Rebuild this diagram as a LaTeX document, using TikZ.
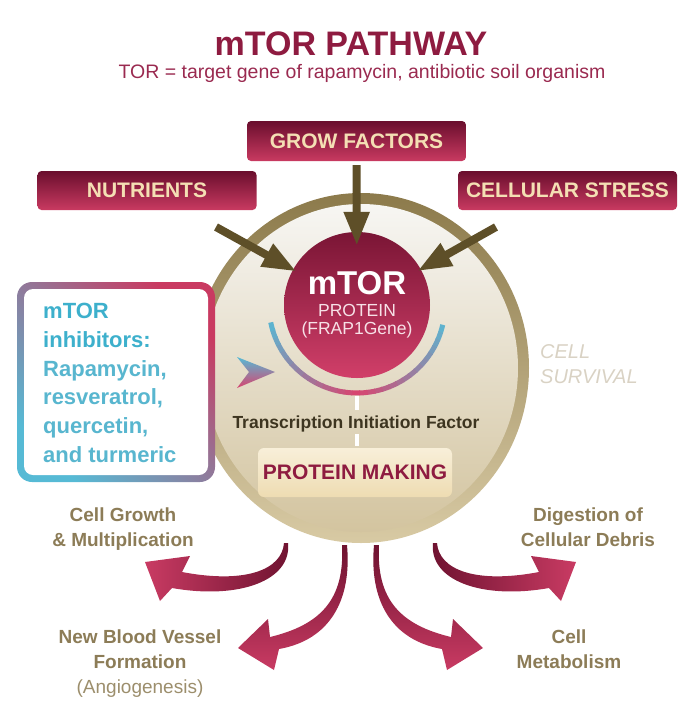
\documentclass[tikz,border=0pt]{standalone}
\usepackage{fontspec}
\setmainfont{Liberation Sans}
\usepackage{tikz}
\usetikzlibrary{arrows.meta}
\usetikzlibrary{positioning}

\definecolor{wine}{HTML}{8E1B40}
\definecolor{winesub}{HTML}{9A2A50}
\definecolor{boxtop}{HTML}{6A0E2D}
\definecolor{boxbot}{HTML}{C93A61}
\definecolor{cream}{HTML}{F4DFB4}
\definecolor{feedbrown}{HTML}{5E4F28}
\definecolor{ringtop}{HTML}{8C7A4B}
\definecolor{ringbot}{HTML}{D8CAA4}
\definecolor{celltop}{HTML}{F7F6F3}
\definecolor{cellmid}{HTML}{ECE5D4}
\definecolor{cellbot}{HTML}{D3C49F}
\definecolor{mtortop}{HTML}{7A1535}
\definecolor{mtorbot}{HTML}{D13F69}
\definecolor{mtortext}{HTML}{F7E1E7}
\definecolor{arcblue}{HTML}{56BAD5}
\definecolor{arcpink}{HTML}{D8446F}
\definecolor{inhpurple}{HTML}{8D6290}
\definecolor{inhtext}{HTML}{3DB0CC}
\definecolor{inhtextb}{HTML}{58B6CF}
\definecolor{darkolive}{HTML}{3D3520}
\definecolor{creamtop}{HTML}{F8EFD9}
\definecolor{creambot}{HTML}{EEDCB2}
\definecolor{survgray}{HTML}{D9D2C4}
\definecolor{tanlabel}{HTML}{8C7C57}
\definecolor{tanlight}{HTML}{9C8E6C}
\definecolor{outtail}{HTML}{6E1230}
\definecolor{outhead}{HTML}{C93B63}

\tikzset{
  factor/.style={rectangle, rounded corners=4pt, top color=boxtop, bottom color=boxbot,
    text=cream, font=\fontsize{21}{21}\selectfont\bfseries,
    minimum width=219pt, minimum height=39pt, inner sep=0pt},
  feed/.style={draw=feedbrown, line width=8pt, -{Triangle[width=24pt,length=34pt]}},
  link/.style={draw=white, line width=4pt},
  outcome/.style={text=tanlabel, font=\fontsize{19}{25}\selectfont\bfseries,
    align=center, anchor=north, inner sep=0pt},
}

\begin{document}
\begin{tikzpicture}[x=1pt,y=-1pt]
\useasboundingbox (0,0) rectangle (700,721);

% heading
\node (title) [font=\fontsize{34}{34}\selectfont\bfseries, text=wine, anchor=base] at (351,55) {mTOR PATHWAY};
\node (subtitle) [font=\fontsize{19.5}{20}\selectfont, text=winesub, anchor=base] at (362,78) {TOR = target gene of rapamycin, antibiotic soil organism};

% outgoing arrows under the cell
\shade[left color=outhead, right color=outtail] (284,543) .. controls (282,570) and (245,584) .. (182,572) -- (190,556) -- (145,562) -- (160,601) -- (172,588) .. controls (240,600) and (292,580) .. (288,543) -- cycle;
\shade[top color=outtail, bottom color=outhead] (342,545) .. controls (345,600) and (320,625) .. (270,637) -- (268,619) -- (238,648) -- (274,670) -- (279,649) .. controls (330,640) and (352,600) .. (347,545) -- cycle;
\shade[top color=outtail, bottom color=outhead] (379,545) .. controls (376,600) and (401,625) .. (451,637) -- (453,619) -- (483,648) -- (447,670) -- (442,649) .. controls (391,640) and (369,600) .. (374,545) -- cycle;
\shade[right color=outhead, left color=outtail] (437,543) .. controls (439,570) and (476,584) .. (539,572) -- (531,556) -- (576,562) -- (561,601) -- (549,588) .. controls (481,600) and (429,580) .. (433,543) -- cycle;

% the cell
\shade[top color=ringtop, bottom color=ringbot] (361,368) ellipse [x radius=168, y radius=175];
\shade[top color=celltop, middle color=cellmid, bottom color=cellbot] (361,368) ellipse [x radius=157, y radius=164];

% mTOR protein
\node (mtor) [circle, minimum size=146pt, inner sep=0pt, top color=mtortop, bottom color=mtorbot,
  text=mtortext, align=center, font=\fontsize{17.5}{18}\selectfont] at (357,305)
  {{\fontsize{33}{33}\selectfont\bfseries\color{white}mTOR}\\[4pt]PROTEIN\\(FRAP1Gene)};

\foreach \a in {13,18,...,163}{
  \pgfmathsetmacro{\pk}{max(0,100-abs(\a+2.5-90)*1.25)}
  \draw[line width=5pt, color=arcpink!\pk!arcblue] (mtor.center) ++(\a:88) arc[start angle=\a, end angle=\a+5.6, radius=88];
}
\shade[top color=arcblue, bottom color=arcpink] (237,357) -- (275,372) -- (237,388) -- (249,372) -- cycle;

% inputs
\node (grow) [factor, minimum height=40pt] at (356.5,141) {GROW FACTORS};
\node (nutrients) [factor] at (147,190.5) {NUTRIENTS};
\node (stress) [factor] at (567.5,190.5) {CELLULAR STRESS};
\coordinate (nutout) at (216,227);
\coordinate (strout) at (496,227);
\draw[feed, shorten <=4pt, shorten >=-14pt] (grow.south) -- (mtor);
\draw[feed, shorten >=-4pt] (nutout) -- (mtor);
\draw[feed, shorten >=-4pt] (strout) -- (mtor);

% transcription and protein making
\coordinate (arcbot) at (357,396);
\node (tif) [font=\fontsize{17.5}{18}\selectfont\bfseries, text=darkolive, anchor=base, inner sep=0pt] at (356,428) {Transcription Initiation Factor};
\node (making) [rectangle, rounded corners=6pt, top color=creamtop, bottom color=creambot,
  minimum width=194pt, minimum height=49pt, text=wine, font=\fontsize{21}{21}\selectfont\bfseries] at (355,472.5) {PROTEIN MAKING};
\draw[link] (arcbot) -- ([yshift=5pt]tif.north -| arcbot);
\draw[link, shorten <=2pt, shorten >=2pt] (tif.south -| arcbot) -- (making.north -| arcbot);

% inhibitors
\shade[rounded corners=15pt, top color=boxbot, middle color=inhpurple, bottom color=arcblue, shading angle=-45] (17,282) rectangle (215,482);
\fill[white, rounded corners=9pt] (24,289) rectangle (208,475);
\node (inhib) [anchor=north west, inner sep=0pt, align=left, font=\fontsize{22}{28.8}\selectfont\bfseries, text=inhtextb] at (43,303)
  {\textcolor{inhtext}{mTOR}\\\textcolor{inhtext}{inhibitors:}\\Rapamycin,\\resveratrol,\\quercetin,\\and turmeric};

\node (survival) [anchor=north west, inner sep=0pt, align=left, font=\fontsize{20}{25}\selectfont\itshape, text=survgray] at (540,344) {CELL\\SURVIVAL};

% outcomes
\node (growth) [outcome] at (123,508) {Cell Growth\\\& Multiplication};
\node (debris) [outcome] at (588,508) {Digestion of\\Cellular Debris};
\node (vessel) [outcome] at (140,630) {New Blood Vessel\\Formation\\{\mdseries\color{tanlight}(Angiogenesis)}};
\node (metab) [outcome] at (569,630) {Cell\\Metabolism};
\end{tikzpicture}
\end{document}
